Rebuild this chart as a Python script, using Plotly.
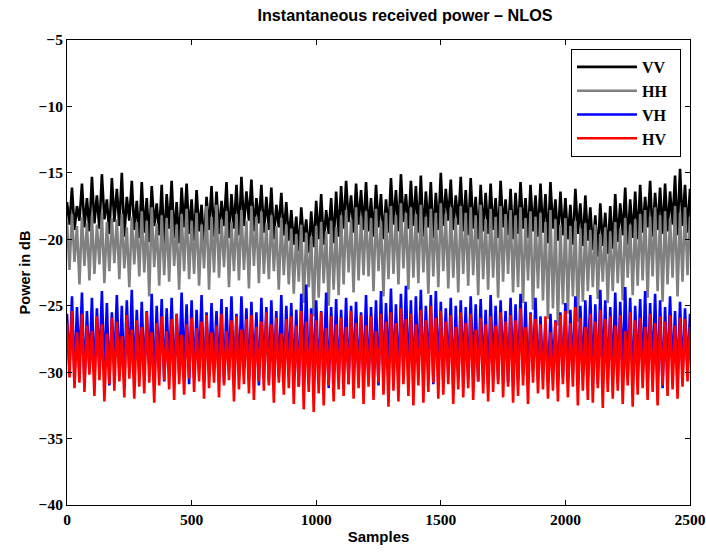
import plotly.graph_objects as go

# Sample positions (every 10 samples), values read as hi/lo envelope of the noisy traces
samples = list(range(0, 2501, 10))

vv = [
 -17.2,-18.9,-16.1,-19.3,-17.5,-18.6,-15.8,-19.1,-16.9,-19.4,
 -15.3,-18.8,-16.7,-19.2,-15.1,-18.5,-17.0,-19.6,-15.4,-18.7,
 -16.2,-19.0,-15.0,-19.8,-16.8,-18.6,-15.6,-19.3,-17.1,-19.9,
 -15.7,-19.5,-16.9,-20.2,-16.0,-19.0,-17.3,-19.7,-15.9,-20.4,
 -16.6,-19.2,-15.6,-19.9,-17.2,-20.3,-16.1,-19.1,-15.8,-19.6,
 -17.0,-20.1,-16.3,-19.4,-17.4,-20.5,-16.8,-19.3,-16.0,-19.8,
 -16.4,-19.6,-17.1,-19.0,-15.7,-19.9,-16.6,-19.2,-15.9,-19.7,
 -15.3,-19.0,-16.4,-18.6,-15.5,-19.4,-16.9,-18.8,-15.9,-19.5,
 -16.8,-19.3,-16.1,-20.0,-17.4,-19.1,-16.5,-19.7,-17.2,-20.1,
 -17.8,-20.4,-18.3,-20.9,-17.6,-20.2,-18.5,-21.0,-17.9,-20.6,
 -17.1,-20.0,-16.6,-20.4,-17.8,-19.6,-16.9,-20.3,-16.4,-19.8,
 -16.0,-19.2,-15.6,-18.7,-16.7,-19.5,-15.8,-18.9,-16.3,-19.3,
 -15.7,-19.4,-16.9,-19.8,-15.9,-19.1,-16.6,-20.0,-17.0,-19.5,
 -15.4,-18.9,-16.3,-19.4,-15.1,-18.7,-16.6,-19.2,-15.6,-19.0,
 -16.0,-19.5,-15.2,-19.8,-16.4,-19.1,-15.7,-19.9,-16.5,-19.3,
 -15.0,-19.0,-16.2,-18.6,-15.5,-19.3,-16.7,-18.9,-15.3,-19.4,
 -16.3,-19.7,-15.4,-19.2,-16.8,-20.0,-15.9,-19.4,-16.5,-19.6,
 -15.8,-19.3,-16.9,-19.9,-15.6,-19.1,-17.0,-19.7,-16.2,-20.0,
 -16.5,-19.6,-15.7,-19.2,-16.9,-19.9,-15.9,-19.4,-16.7,-19.8,
 -15.8,-19.5,-16.6,-20.3,-15.7,-19.2,-17.0,-20.1,-16.4,-19.7,
 -16.9,-20.0,-17.4,-20.4,-16.2,-19.6,-17.3,-20.5,-16.7,-20.1,
 -17.6,-20.8,-18.2,-21.3,-17.3,-20.5,-18.0,-21.1,-17.5,-20.7,
 -16.6,-20.2,-17.3,-19.7,-16.1,-20.4,-17.0,-19.9,-16.4,-20.0,
 -15.9,-19.5,-16.8,-19.1,-15.6,-19.8,-16.5,-19.3,-16.1,-19.6,
 -15.8,-19.4,-16.4,-18.9,-15.2,-19.7,-14.7,-19.0,-15.9,-19.5,
 -16.2]

hh = [
 -18.6,-22.3,-18.1,-21.7,-19.0,-23.4,-18.3,-22.0,-18.8,-23.1,
 -18.2,-22.6,-18.9,-21.9,-18.0,-23.3,-18.7,-22.4,-18.4,-21.8,
 -18.5,-23.0,-18.1,-22.2,-19.1,-23.6,-18.3,-21.9,-18.7,-22.8,
 -17.9,-22.5,-18.6,-24.3,-17.6,-22.1,-18.8,-23.5,-18.2,-22.7,
 -18.4,-23.2,-17.8,-22.0,-18.9,-23.8,-18.1,-22.4,-17.7,-23.0,
 -18.6,-22.6,-18.0,-23.5,-18.9,-22.2,-17.5,-23.8,-18.3,-22.5,
 -17.4,-22.9,-18.5,-22.1,-17.9,-23.6,-18.7,-22.4,-18.1,-23.1,
 -17.8,-22.3,-18.6,-23.7,-17.5,-22.0,-18.3,-23.3,-17.9,-22.6,
 -18.8,-23.0,-18.2,-22.4,-19.0,-23.8,-18.4,-22.7,-18.9,-23.4,
 -19.2,-24.1,-19.6,-23.2,-18.9,-24.8,-19.5,-23.6,-19.8,-25.8,
 -19.0,-24.4,-18.7,-23.3,-19.4,-25.0,-18.6,-23.8,-19.1,-24.2,
 -18.2,-23.4,-17.8,-22.5,-18.5,-24.0,-17.6,-23.1,-18.3,-22.7,
 -17.9,-22.8,-18.4,-23.9,-17.7,-22.4,-18.6,-24.3,-18.0,-23.0,
 -17.5,-22.6,-18.2,-23.4,-17.3,-22.2,-18.0,-23.8,-17.6,-22.9,
 -18.1,-23.3,-17.4,-22.5,-18.3,-24.1,-17.7,-22.8,-18.0,-23.6,
 -17.3,-22.4,-18.1,-23.7,-17.6,-22.9,-18.4,-24.0,-17.5,-22.6,
 -18.0,-23.5,-17.6,-22.7,-18.2,-24.2,-17.4,-23.0,-18.5,-23.8,
 -17.7,-22.9,-18.3,-24.4,-17.5,-23.2,-18.1,-22.6,-17.8,-24.0,
 -18.2,-23.6,-17.6,-24.8,-18.4,-23.1,-17.9,-25.3,-18.3,-23.7,
 -18.0,-24.6,-18.7,-26.0,-17.8,-25.2,-18.5,-26.5,-18.9,-24.9,
 -18.4,-25.6,-19.0,-24.3,-18.6,-26.2,-19.2,-24.7,-18.8,-23.9,
 -19.3,-23.6,-18.9,-24.5,-19.6,-23.2,-19.1,-24.8,-19.4,-23.9,
 -18.7,-23.3,-19.2,-24.6,-18.4,-22.9,-18.9,-24.2,-18.5,-23.5,
 -18.1,-23.1,-17.8,-24.4,-18.3,-22.8,-17.6,-23.9,-18.2,-24.7,
 -17.9,-23.4,-18.4,-22.9,-17.5,-24.3,-18.0,-23.2,-17.6,-22.7,
 -18.3]

vh = [
 -25.6,-29.8,-24.3,-30.4,-25.1,-29.5,-24.0,-30.9,-25.4,-29.9,
 -24.4,-30.6,-25.2,-29.7,-23.9,-30.2,-24.8,-31.0,-25.5,-29.6,
 -24.2,-30.1,-25.0,-30.8,-24.6,-29.8,-23.8,-30.5,-25.3,-30.0,
 -24.7,-30.3,-25.4,-29.6,-24.1,-31.1,-25.0,-30.0,-24.5,-30.7,
 -25.2,-29.9,-24.4,-30.6,-25.6,-30.1,-24.0,-29.7,-24.9,-30.9,
 -24.6,-30.4,-25.3,-29.8,-24.2,-30.7,-25.5,-30.0,-24.8,-29.6,
 -25.4,-30.2,-24.5,-30.8,-25.1,-29.9,-24.3,-30.5,-25.6,-30.1,
 -24.3,-29.8,-25.2,-30.6,-24.7,-30.0,-25.5,-31.0,-24.4,-30.3,
 -25.1,-30.7,-24.6,-29.9,-25.4,-30.4,-24.2,-30.8,-25.0,-29.7,
 -24.8,-30.5,-25.3,-31.1,-24.1,-30.2,-23.4,-30.9,-25.2,-30.0,
 -24.6,-30.6,-25.4,-29.8,-24.0,-31.2,-25.1,-30.3,-24.5,-30.7,
 -25.3,-30.1,-24.4,-30.9,-25.0,-29.8,-24.7,-30.5,-25.5,-30.2,
 -24.2,-30.8,-25.1,-30.0,-24.6,-31.0,-23.9,-30.4,-24.8,-29.9,
 -23.7,-30.3,-24.9,-30.7,-24.1,-29.8,-23.5,-30.5,-24.6,-31.1,
 -24.3,-30.0,-23.8,-30.6,-25.0,-29.9,-24.2,-30.9,-23.9,-30.2,
 -24.7,-30.8,-25.2,-30.1,-24.4,-31.2,-25.0,-30.4,-24.6,-29.8,
 -25.1,-30.5,-24.3,-29.9,-24.9,-30.7,-24.5,-30.2,-25.3,-30.9,
 -24.2,-30.0,-25.0,-30.6,-24.6,-29.7,-25.4,-30.8,-24.4,-30.3,
 -24.9,-30.6,-24.1,-30.1,-24.7,-30.9,-25.5,-29.9,-24.4,-30.5,
 -25.8,-30.2,-26.3,-30.8,-25.6,-29.9,-26.1,-30.6,-25.5,-30.4,
 -24.8,-30.7,-25.3,-30.1,-24.3,-31.0,-25.0,-30.3,-24.6,-29.8,
 -24.2,-30.4,-24.9,-30.9,-23.8,-30.0,-24.6,-30.6,-25.1,-30.2,
 -24.0,-30.8,-24.7,-29.9,-23.6,-30.5,-24.4,-31.1,-25.0,-30.1,
 -24.5,-30.3,-23.9,-30.7,-24.8,-30.0,-24.1,-30.9,-24.6,-31.2,
 -25.1,-30.4,-24.3,-30.0,-25.4,-30.8,-24.7,-30.2,-25.2,-29.8,
 -25.6]

hv = [
 -26.3,-30.4,-25.4,-31.2,-27.0,-30.8,-25.6,-31.5,-26.5,-30.2,
 -26.9,-31.8,-25.8,-30.6,-26.4,-32.2,-27.1,-30.9,-25.9,-31.4,
 -26.2,-30.7,-27.3,-31.9,-25.7,-30.5,-26.8,-32.0,-26.1,-31.1,
 -26.6,-31.6,-25.5,-30.8,-27.0,-32.3,-26.3,-31.0,-25.8,-30.6,
 -26.9,-31.3,-26.0,-32.1,-25.6,-30.9,-27.2,-31.7,-26.4,-30.5,
 -25.9,-31.5,-26.7,-30.7,-26.2,-32.0,-25.7,-31.2,-27.0,-30.8,
 -26.5,-31.9,-25.6,-31.0,-26.9,-30.6,-26.1,-32.2,-25.8,-31.3,
 -26.8,-30.9,-26.0,-31.6,-25.7,-32.1,-26.6,-30.7,-26.2,-31.4,
 -25.5,-31.0,-26.4,-32.3,-25.9,-30.8,-27.1,-31.7,-26.0,-31.2,
 -25.8,-32.4,-26.5,-31.1,-25.4,-32.8,-26.2,-31.5,-25.6,-33.0,
 -26.1,-31.6,-25.5,-32.5,-26.7,-31.0,-25.8,-32.2,-26.4,-31.3,
 -25.9,-31.8,-26.6,-30.9,-25.4,-32.0,-26.3,-31.2,-25.7,-32.4,
 -26.5,-31.1,-25.8,-32.1,-26.9,-30.8,-25.6,-31.7,-26.2,-32.6,
 -25.5,-31.4,-26.3,-32.2,-25.2,-30.9,-26.0,-31.8,-25.6,-32.5,
 -26.4,-31.0,-25.3,-32.3,-26.1,-31.5,-25.0,-30.8,-25.9,-32.0,
 -25.4,-31.7,-26.2,-30.9,-25.7,-32.4,-26.6,-31.3,-25.5,-31.9,
 -26.3,-31.2,-25.6,-32.1,-26.8,-30.7,-25.9,-31.6,-26.4,-32.2,
 -25.8,-31.5,-26.5,-30.9,-25.5,-31.9,-26.2,-31.1,-25.7,-32.3,
 -26.1,-31.8,-25.2,-31.0,-26.6,-32.4,-25.6,-30.8,-26.0,-31.6,
 -26.4,-31.3,-25.8,-32.0,-27.0,-31.4,-26.2,-32.2,-25.7,-30.9,
 -25.4,-31.9,-26.3,-31.1,-25.1,-32.5,-25.9,-31.4,-26.6,-32.1,
 -25.6,-32.3,-26.2,-31.2,-25.3,-32.7,-26.0,-31.5,-25.8,-32.0,
 -26.5,-31.4,-25.7,-32.4,-26.9,-31.0,-25.5,-32.6,-26.1,-31.7,
 -25.9,-31.2,-26.6,-32.1,-25.6,-31.5,-26.3,-32.5,-25.8,-31.0,
 -26.2,-31.8,-25.7,-31.3,-26.5,-32.0,-25.9,-31.1,-26.0,-30.7,
 -26.6]

series_names = ["VV", "HH", "VH", "HV"]
series_values = [vv, hh, vh, hv]
series_colors = ["#000000", "#808080", "#0000ff", "#ff0000"]

x_ticks = [0, 500, 1000, 1500, 2000, 2500]
y_ticks = [-40, -35, -30, -25, -20, -15, -10, -5]

fig = go.Figure()
for name, vals, col in zip(series_names, series_values, series_colors):
    fig.add_trace(go.Scatter(x=samples, y=vals, mode="lines", name=name + "\u00a0\u00a0",
                             line=dict(color=col, width=2.6)))

tickfont = dict(family="Liberation Serif", size=15.5, color="black", weight="bold")
axis_common = dict(showline=True, linecolor="black", linewidth=1, mirror="ticks",
                   ticks="inside", ticklen=5, tickcolor="black", showgrid=False,
                   zeroline=False, tickfont=tickfont, automargin=False)

W, H = 706, 553
fig.update_layout(
    width=W, height=H,
    margin=dict(l=67, r=16, t=40, b=48),
    paper_bgcolor="white", plot_bgcolor="white",
    title=dict(text="<b>Instantaneous received power \u2013 NLOS</b>",
               font=dict(family="Liberation Sans", size=16.2, color="black"),
               x=405 / W, xanchor="center", y=1 - 15.5 / H, yanchor="middle"),
    xaxis=dict(range=[0, 2500], tickvals=x_ticks,
               title=dict(text="<b>Samples</b>", font=dict(family="Liberation Sans", size=15, color="black"),
                          standoff=4),
               **axis_common),
    yaxis=dict(range=[-40, -5], tickvals=y_ticks,
               title=dict(text="<b>Power in dB</b>", font=dict(family="Liberation Sans", size=14.5, color="black"),
                          standoff=4),
               **axis_common),
    legend=dict(x=(681 - 67) / 623, xanchor="right", y=1 - (49 - 40) / 465, yanchor="top",
                bgcolor="white", bordercolor="black", borderwidth=1, itemwidth=60,
                font=dict(family="Liberation Serif", size=16, color="black", weight="bold")),
    showlegend=True,
)

fig.write_html("out.html", config={"displayModeBar": False},
               post_script="document.body.style.margin='0px';document.body.style.overflow='hidden';")
